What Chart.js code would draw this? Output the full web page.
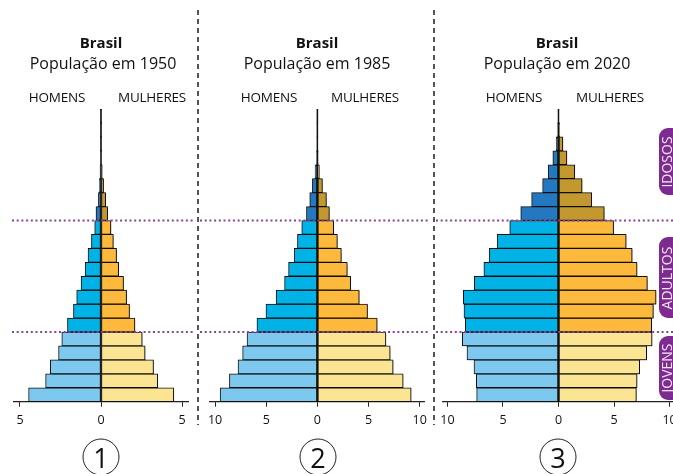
<!DOCTYPE html>
<html lang="pt">
<head>
    <meta charset="UTF-8">
    <title>Pirâmides etárias - Brasil</title>
    <style>
        body {
            margin: 0;
            padding: 0;
            width: 673px;
            height: 474px;
            overflow: hidden;
            position: relative;
            background: #fff;
            font-family: 'Open Sans', sans-serif;
            color: #111;
        }
        canvas { position: absolute; top: 0; }
        .txt {
            position: absolute;
            transform: translate(-50%, -50%);
            white-space: nowrap;
        }
        .uf { font-weight: bold; font-size: 15px; }
        .ano { font-size: 16px; }
        .sexo { font-size: 13.5px; letter-spacing: -0.2px; }
        .sep {
            position: absolute;
            top: 10px;
            height: 415px;
            width: 1.5px;
            background: repeating-linear-gradient(to bottom, #555 0 5px, transparent 5px 9px);
        }
        .num {
            position: absolute;
            width: 35px;
            height: 35px;
            border: 1.2px solid #222;
            border-radius: 50%;
            transform: translate(-50%, -50%);
            font-size: 27px;
            line-height: 35px;
            text-align: center;
        }
        .tab {
            position: absolute;
            left: 659px;
            width: 30px;
            background: #7d2b8f;
            border-radius: 9px;
        }
        .tab span {
            position: absolute;
            left: 7px;
            top: 50%;
            transform: translate(-50%, -50%) rotate(-90deg);
            color: #f3e6f6;
            font-size: 14px;
        }
    </style>
    <script src="https://cdn.jsdelivr.net/npm/chart.js"></script>
</head>
<body>
    <canvas id="c1" width="198" height="474" style="left:0px"></canvas>
    <canvas id="c2" width="235" height="474" style="left:198px"></canvas>
    <canvas id="c3" width="260" height="474" style="left:433px"></canvas>

    <div class="sep" style="left:197px"></div>
    <div class="sep" style="left:433px"></div>

    <div class="txt uf" style="left:101px;top:42px">Brasil</div>
    <div class="txt ano" style="left:103px;top:63px">População em 1950</div>
    <div class="txt sexo" style="left:57px;top:97px">HOMENS</div>
    <div class="txt sexo" style="left:152px;top:97px">MULHERES</div>

    <div class="txt uf" style="left:317px;top:42px">Brasil</div>
    <div class="txt ano" style="left:317px;top:63px">População em 1985</div>
    <div class="txt sexo" style="left:269px;top:97px">HOMENS</div>
    <div class="txt sexo" style="left:365px;top:97px">MULHERES</div>

    <div class="txt uf" style="left:557px;top:42px">Brasil</div>
    <div class="txt ano" style="left:557px;top:63px">População em 2020</div>
    <div class="txt sexo" style="left:514px;top:97px">HOMENS</div>
    <div class="txt sexo" style="left:610px;top:97px">MULHERES</div>

    <div class="tab" style="top:128px;height:67px"><span>IDOSOS</span></div>
    <div class="tab" style="top:237px;height:81px"><span>ADULTOS</span></div>
    <div class="tab" style="top:336px;height:64px"><span>JOVENS</span></div>

    <div class="num" style="left:101px;top:457px">1</div>
    <div class="num" style="left:318px;top:457px">2</div>
    <div class="num" style="left:558px;top:457px">3</div>

    <script>
        // faixas etárias, de baixo (0-4) para cima (100+)
        const faixas = ['0-4', '5-9', '10-14', '15-19', '20-24', '25-29', '30-34', '35-39', '40-44',
                        '45-49', '50-54', '55-59', '60-64', '65-69', '70-74', '75-79', '80-84',
                        '85-89', '90-94', '95-99', '100+'];

        // % da população
        const homens1950   = [4.47, 3.42, 3.13, 2.62, 2.42, 2.07, 1.70, 1.50, 1.23, 0.98, 0.80, 0.59, 0.39, 0.31, 0.16, 0.10, 0.06, 0.03, 0.02, 0.01, 0.005];
        const mulheres1950 = [4.49, 3.50, 3.24, 2.72, 2.54, 2.09, 1.76, 1.58, 1.39, 1.09, 0.96, 0.76, 0.61, 0.41, 0.29, 0.16, 0.08, 0.04, 0.02, 0.01, 0.005];

        const homens1985   = [9.51, 8.60, 7.76, 7.31, 6.88, 5.91, 5.03, 4.03, 3.21, 2.82, 2.27, 1.95, 1.53, 1.07, 0.75, 0.49, 0.23, 0.08, 0.04, 0.02, 0.01];
        const mulheres1985 = [9.16, 8.38, 7.40, 7.11, 6.69, 5.84, 4.90, 4.09, 3.25, 2.92, 2.34, 1.95, 1.59, 1.17, 0.88, 0.49, 0.19, 0.08, 0.04, 0.02, 0.01];

        const homens2020   = [7.37, 7.40, 7.61, 8.24, 8.66, 8.39, 8.51, 8.57, 7.58, 6.72, 6.24, 5.52, 4.39, 3.40, 2.42, 1.43, 0.93, 0.51, 0.21, 0.08, 0.03];
        const mulheres2020 = [7.01, 7.07, 7.31, 7.94, 8.42, 8.39, 8.54, 8.78, 8.00, 7.07, 6.63, 6.09, 4.96, 4.12, 2.99, 2.12, 1.46, 0.75, 0.39, 0.11, 0.04];

        const ticks1950 = [-5, 0, 5];
        const ticks1985 = [-10, -5, 0, 5, 10];
        const ticks2020 = [-10, -5, 0, 5, 10];

        // jovens: 5 primeiras faixas, adultos: 8 seguintes, resto idosos
        const nJovens = 5, nAdultos = 8;
        const coresH = ['#7dc8ee', '#00b2e6', '#2478c0'];
        const coresM = ['#fce592', '#fdb93b', '#c3982f'];
        const grupo = i => i < nJovens ? 0 : (i < nJovens + nAdultos ? 1 : 2);

        const fonte = { family: "'Open Sans', sans-serif", size: 12.5 };

        const pyramidPlugin = {
            id: 'pyramid',
            beforeDatasetsDraw(chart) {
                const ctx = chart.ctx;
                ctx.save();
                ctx.shadowColor = 'rgba(0,0,0,0.35)';
                ctx.shadowOffsetX = 1.5;
                ctx.shadowOffsetY = 1;
                ctx.shadowBlur = 1;
            },
            afterDatasetsDraw(chart, args, opts) {
                const ctx = chart.ctx;
                ctx.restore();
                const x = chart.scales.x;
                const y = chart.scales.y;
                const area = chart.chartArea;

                // linha central
                const x0 = x.getPixelForValue(0);
                ctx.save();
                ctx.strokeStyle = '#111';
                ctx.lineWidth = 1.4;
                ctx.beginPath();
                ctx.moveTo(x0, area.top);
                ctx.lineTo(x0, area.bottom);
                ctx.stroke();

                // linhas pontilhadas entre jovens/adultos/idosos
                ctx.strokeStyle = '#8e3f9e';
                ctx.lineWidth = 2;
                ctx.setLineDash([2, 2.7]);
                [nJovens, nJovens + nAdultos].forEach(k => {
                    const yy = (y.getPixelForValue(k - 1) + y.getPixelForValue(k)) / 2;
                    ctx.beginPath();
                    ctx.moveTo(opts.from, yy);
                    ctx.lineTo(chart.width - opts.cut, yy);
                    ctx.stroke();
                });
                ctx.restore();
            }
        };

        function pyramid(id, homens, mulheres, lim, tickVals, pad, dots) {
            new Chart(document.getElementById(id), {
                type: 'bar',
                data: {
                    labels: faixas,
                    datasets: [{
                        label: 'Homens',
                        data: homens.map(v => -v),
                        backgroundColor: faixas.map((f, i) => coresH[grupo(i)]),
                        borderColor: '#111',
                        borderWidth: 1,
                        borderSkipped: false
                    }, {
                        label: 'Mulheres',
                        data: mulheres,
                        backgroundColor: faixas.map((f, i) => coresM[grupo(i)]),
                        borderColor: '#111',
                        borderWidth: 1,
                        borderSkipped: false
                    }]
                },
                options: {
                    indexAxis: 'y',
                    responsive: false,
                    animation: false,
                    barPercentage: 1,
                    categoryPercentage: 1,
                    layout: { padding: { top: 109, bottom: 42.3, left: pad[0], right: pad[1] } },
                    plugins: {
                        legend: { display: false },
                        tooltip: { enabled: false },
                        pyramid: dots
                    },
                    scales: {
                        x: {
                            stacked: true,
                            min: -lim,
                            max: lim,
                            afterBuildTicks: s => { s.ticks = tickVals.map(v => ({ value: v })); },
                            afterFit: s => { s.height = 30; },
                            ticks: {
                                callback: v => Math.abs(v),
                                font: fonte,
                                color: '#111',
                                padding: 6,
                                maxRotation: 0,
                                autoSkip: false
                            },
                            grid: { drawOnChartArea: false, tickLength: 5, tickColor: '#222', tickWidth: 1 },
                            border: { display: true, color: '#222', width: 1.2 }
                        },
                        y: {
                            stacked: true,
                            reverse: true,
                            display: false
                        }
                    }
                },
                plugins: [pyramidPlugin]
            });
        }

        pyramid('c1', homens1950, mulheres1950, 5.37, ticks1950, [14, 10], { from: 12, cut: 3 });
        pyramid('c2', homens1985, mulheres1985, 10.5, ticks1985, [12, 7], { from: 2, cut: 3 });
        pyramid('c3', homens2020, mulheres2020, 10.4, ticks2020, [10, 19], { from: 3, cut: 0 });
    </script>
</body>
</html>
